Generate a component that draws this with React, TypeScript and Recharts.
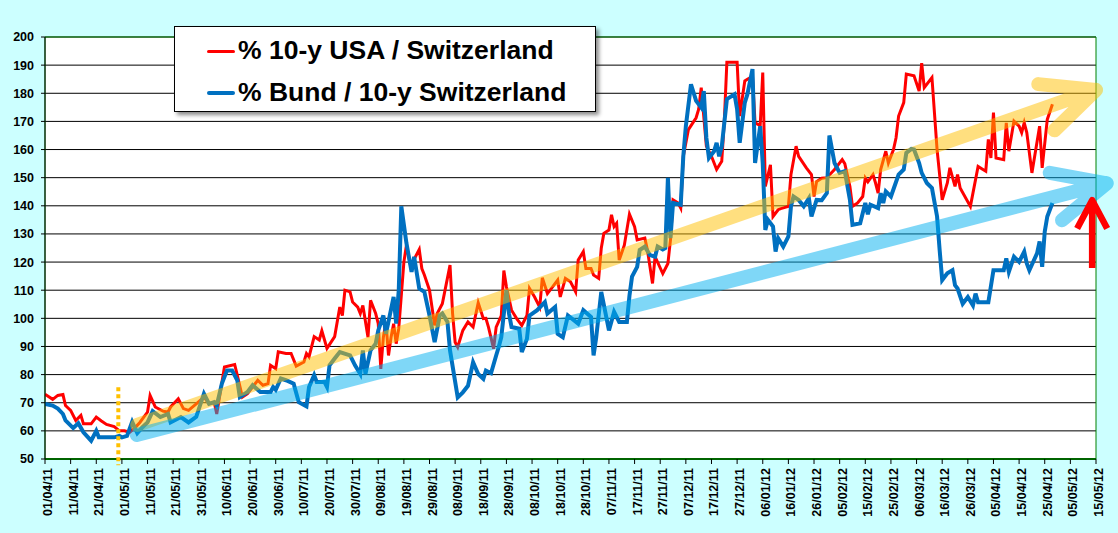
import React from 'react';
import { LineChart, Line, XAxis, YAxis, CartesianGrid, ReferenceLine, ReferenceArea } from 'recharts';

// x values are day offsets from 01/04/11
const X_TICK_LABELS = [
  '01/04/11', '11/04/11', '21/04/11', '01/05/11', '11/05/11', '21/05/11', '31/05/11', '10/06/11',
  '20/06/11', '30/06/11', '10/07/11', '20/07/11', '30/07/11', '09/08/11', '19/08/11', '29/08/11',
  '08/09/11', '18/09/11', '28/09/11', '08/10/11', '18/10/11', '28/10/11', '07/11/11', '17/11/11',
  '27/11/11', '07/12/11', '17/12/11', '27/12/11', '06/01/12', '16/01/12', '26/01/12', '05/02/12',
  '15/02/12', '25/02/12', '06/03/12', '16/03/12', '26/03/12', '05/04/12', '15/04/12', '25/04/12',
  '05/05/12', '15/05/12',
];
const X_TICKS = X_TICK_LABELS.map((_, i) => i * 10);
const Y_TICKS = [50, 60, 70, 80, 90, 100, 110, 120, 130, 140, 150, 160, 170, 180, 190, 200];

const USA_NAME = '% 10-y USA / Switzerland';
const BUND_NAME = '% Bund / 10-y Switzerland';

const USA_DAYS = [
  0, 3, 5, 7, 8, 10, 12, 14, 15, 18, 20, 22, 24, 27, 29, 31, 33, 35, 37, 40, 41, 43, 46, 48, 49, 52, 54, 56, 59, 62,
  64, 66, 67, 70, 74, 75, 77, 79, 83, 85, 87, 88, 90, 91, 94, 96, 98, 101, 102, 103, 105, 107, 108, 110, 113, 115,
  116, 117, 119, 120, 122, 123, 124, 126, 127, 129, 130, 131, 132, 133, 134, 135, 136, 137, 138, 140, 141, 143, 144,
  146, 147, 148, 150, 152, 153, 155, 158, 159, 160, 161, 163, 165, 167, 169, 171, 172, 173, 175, 176, 178, 179, 180,
  182, 184, 186, 188, 189, 191, 193, 194, 196, 198, 200, 201, 203, 205, 207, 208, 210, 211, 213, 214, 216, 217, 218,
  220, 221, 222, 223, 224, 226, 228, 230, 231, 234, 235, 237, 238, 241, 243, 244, 245, 247, 248, 249, 251, 254, 255,
  256, 258, 260, 262, 264, 265, 266, 270, 271, 273, 274, 276, 277, 279, 280, 281, 283, 284, 286, 287, 290, 291, 293,
  294, 297, 299, 300, 301, 303, 305, 308, 311, 312, 314, 315, 317, 319, 320, 321, 323, 324, 325, 326, 328, 329, 331,
  332, 333, 335, 336, 339, 341, 342, 343, 346, 348, 350, 352, 353, 355, 356, 357, 361, 364, 367, 368, 369, 370, 371,
  374, 375, 376, 378, 380, 381, 382, 383, 385, 388, 389, 391, 393,
];
const USA_VALUES = [
  73, 71.2, 72.6, 72.9, 69, 67.3, 63.7, 65.5, 62.5, 62.5, 64.9, 63.5, 62.3, 61.5, 60, 60, 59.5, 61, 63, 66.7, 72.6,
  68.5, 67, 66.7, 68.5, 71.4, 67.9, 67.3, 69.6, 72, 69.6, 70.2, 66, 82.7, 83.6, 79.8, 72, 73.2, 78, 76.2, 76.8, 83.3,
  82.1, 88.1, 87.5, 87.5, 83, 84.5, 87.5, 86.3, 93.5, 92.3, 95.6, 89.3, 93.5, 104, 101, 110, 109.4, 105.8, 104, 101.7,
  104.6, 93.3, 106.4, 101.7, 98.1, 82, 93.3, 98.7, 86.8, 93.3, 98.1, 91, 96.4, 120, 126, 117, 121, 124.5, 117.7,
  115.4, 110, 97.5, 101.7, 105.2, 118.9, 101.7, 91.5, 89.8, 95.7, 98.7, 96.9, 105.5, 99.9, 100, 96.9, 89.2, 96.9, 101,
  117, 111.2, 102.9, 99.9, 97.5, 101, 110.6, 107.6, 104, 114.4, 108.8, 111.2, 113.6, 107.6, 114.2, 113, 109.4, 120.7,
  123.7, 117.7, 117.7, 115.4, 114.2, 124.9, 130.2, 131.4, 136.8, 132.6, 133.8, 120.7, 126, 137, 132.6, 127.9, 128.5,
  124.3, 112.4, 121.9, 115.9, 119.5, 127.9, 142.1, 141, 139.2, 157.6, 167.1, 171.3, 174.3, 182, 161.2, 157.6, 152.9,
  155.8, 170.1, 191, 191, 171.9, 184.4, 185, 186, 169.5, 168.5, 187.4, 146.9, 154.6, 136.2, 138.6, 139, 139.8, 151.1,
  161.2, 157.6, 153.5, 151.1, 143.3, 148.6, 149.8, 150, 152.9, 156.4, 155, 146.9, 139.8, 141, 143.3, 149.9, 148.5,
  151.1, 148.1, 144.5, 152.9, 159.4, 155.2, 160, 164.2, 171.9, 176.7, 186.8, 186.2, 180.8, 190.7, 182, 185.6, 160,
  142.1, 148.1, 153.5, 146.9, 151.1, 146.3, 139.8, 154, 152.3, 163.6, 157, 173.1, 157, 156.4, 169.5, 159.4, 170.1,
  168.3, 166, 169.5, 166, 151.7, 168.3, 153.5, 170.7, 176.1,
];

const BUND_DAYS = [
  0, 3, 5, 7, 8, 11, 13, 15, 18, 20, 21, 27, 29, 30, 32, 34, 36, 38, 40, 42, 45, 48, 49, 53, 56, 59, 62, 64, 66, 67,
  69, 71, 73, 75, 76, 79, 81, 84, 88, 89, 90, 92, 94, 97, 99, 102, 103, 105, 106, 109, 110, 111, 113, 115, 119, 121,
  123, 124, 125, 127, 129, 130, 132, 133, 136, 137, 138, 139, 141, 143, 144, 146, 148, 150, 152, 154, 155, 157, 158,
  161, 163, 165, 167, 169, 171, 172, 174, 176, 177, 178, 180, 181, 182, 185, 186, 188, 189, 192, 195, 196, 199, 200,
  202, 204, 208, 210, 213, 214, 215, 217, 220, 222, 224, 227, 228, 229, 231, 232, 234, 236, 238, 239, 241, 242, 243,
  244, 245, 248, 249, 250, 252, 254, 256, 257, 258, 259, 261, 262, 263, 264, 266, 269, 270, 271, 273, 274, 276, 277,
  279, 280, 281, 282, 284, 285, 286, 288, 290, 291, 292, 294, 296, 298, 299, 301, 303, 305, 306, 308, 310, 312, 314,
  315, 318, 320, 321, 322, 325, 326, 327, 328, 330, 333, 335, 336, 338, 339, 341, 342, 344, 346, 348, 349, 350, 352,
  354, 355, 356, 358, 360, 362, 363, 364, 368, 370, 374, 375, 376, 378, 380, 382, 383, 384, 387, 388, 389, 390, 391,
  393,
];
const BUND_VALUES = [
  69.6, 69, 67.9, 66, 63.7, 61, 62.7, 59.5, 56.5, 60, 57.7, 57.7, 58.2, 57.7, 58.2, 63.2, 59.2, 61.3, 63, 67, 64.9, 66,
  63, 64.9, 63, 65, 73.2, 69.6, 70.2, 69, 76.8, 81.5, 81.5, 78, 72, 73.8, 76.2, 73.8, 73.8, 75.6, 74.6, 78.6, 78, 76.8,
  70.2, 68.7, 75.6, 79.8, 77.4, 77.4, 75.6, 83.3, 85.7, 88, 86.8, 83.2, 80.2, 88.6, 80.2, 88.6, 91, 95.7, 101, 94.5,
  107.6, 98.1, 110, 139.8, 126.7, 116.5, 121.9, 110.6, 109.4, 101, 91.5, 101, 101.7, 98.7, 88.6, 71.9, 73.7, 76, 84.4,
  80.2, 78.5, 81.4, 80.5, 86.8, 89.8, 93.3, 110, 101.7, 96.9, 96.3, 88, 92.7, 101, 102.9, 105.8, 101.7, 104, 94.5,
  93.3, 101, 98.1, 102.9, 100.5, 86.8, 93, 109.4, 95.7, 102.3, 98.7, 98.7, 108, 114.8, 118.3, 124.3, 125.5, 122.5,
  121.9, 125.5, 124.5, 125, 149.9, 128.5, 141, 140.4, 157.6, 168.3, 183.2, 177.3, 174.9, 180.8, 164.2, 157, 159.4,
  162.4, 157.6, 161, 177.9, 179.6, 174.3, 162.4, 176.7, 179.6, 188.6, 155.2, 168.3, 155, 131.4, 135, 132.6, 123.7,
  128.5, 125.5, 129.1, 139.8, 143.3, 142.1, 139.8, 142.7, 136.2, 142.1, 142, 144.5, 165, 155.2, 151.7, 152.3, 142.1,
  133.2, 133.8, 141, 137, 140.4, 139.2, 144.5, 141, 145.1, 143.3, 151.1, 152.9, 158.8, 160.2, 160, 155.2, 151.7,
  148.1, 146.3, 136.2, 124.3, 113.6, 116, 117.1, 111.8, 110.6, 105.2, 107.6, 104.6, 108.8, 105.7, 105.7, 117.1, 117.1,
  121.3, 116.5, 121.9, 120.1, 123.7, 119.5, 117.1, 123.1, 127.3, 118.3, 130.8, 136.2, 141,
];

// Annotation anchors in data units (day offset, value)
const YELLOW_ARROW = [{ x: 36, y: 62.1 }, { x: 410, y: 181.2 }];
const BLUE_ARROW = [{ x: 35.8, y: 58.5 }, { x: 414.2, y: 148 }];
const RED_ARROW = [{ x: 408.5, y: 117.9 }, { x: 408.5, y: 142 }];
const START_MARK = [{ x: 28.6, y: 75.5 }, { x: 28.6, y: 47.8 }];

const usaData = USA_DAYS.map((d, i) => ({ d, v: USA_VALUES[i] }));
const bundData = BUND_DAYS.map((d, i) => ({ d, v: BUND_VALUES[i] }));

const FONT = '"Liberation Sans", Arial, sans-serif';

const makeArrow = (color: string, opacity: number, width: number, head: number, angleDeg: number, cap: string) =>
  (props: any) => {
    const { x1, y1, x2, y2 } = props;
    if ([x1, y1, x2, y2].some((v) => typeof v !== 'number' || isNaN(v))) return <g />;
    const ang = Math.atan2(y1 - y2, x1 - x2);
    const a = (angleDeg * Math.PI) / 180;
    const wx1 = x2 + head * Math.cos(ang + a);
    const wy1 = y2 + head * Math.sin(ang + a);
    const wx2 = x2 + head * Math.cos(ang - a);
    const wy2 = y2 + head * Math.sin(ang - a);
    return (
      <path
        d={`M${x1},${y1}L${x2},${y2}M${wx1},${wy1}L${x2},${y2}L${wx2},${wy2}`}
        stroke={color}
        strokeOpacity={opacity}
        strokeWidth={width}
        strokeLinecap={cap as any}
        strokeLinejoin="round"
        fill="none"
      />
    );
  };

const XTick = (props: any) => {
  const { x, y, payload } = props;
  const idx = X_TICKS.indexOf(payload.value);
  const label = idx >= 0 ? X_TICK_LABELS[idx] : '';
  return (
    <text
      transform={`translate(${x + 7},${y}) rotate(-90)`}
      textAnchor="end"
      fontSize={12.5}
      fontWeight="bold"
      fontFamily={FONT}
      fill="#000"
    >
      {label}
    </text>
  );
};

const LegendBox = () => (
  <div
    style={{
      position: 'absolute',
      left: 174,
      top: 26,
      width: 422,
      height: 86,
      background: '#fff',
      border: '1px solid #000',
      boxShadow: '3px 3px 4px rgba(0,0,0,0.45)',
      fontFamily: FONT,
      fontWeight: 'bold',
      fontSize: 26.5,
      color: '#000',
      boxSizing: 'border-box',
    }}
  >
    {[
      { name: USA_NAME, color: '#FF0000', w: 3, top: 8 },
      { name: BUND_NAME, color: '#0070C0', w: 4, top: 50 },
    ].map((it) => (
      <div
        key={it.name}
        style={{ position: 'absolute', left: 32, top: it.top, display: 'flex', alignItems: 'center', whiteSpace: 'nowrap', lineHeight: '30px' }}
      >
        <span style={{ display: 'inline-block', width: 28, height: it.w, background: it.color, marginRight: 3, marginTop: 2, borderRadius: 2 }} />
        <span>{it.name}</span>
      </div>
    ))}
  </div>
);

export default function App() {
  return (
    <div style={{ position: 'relative', width: 1118, height: 533, background: '#CCFFFF', overflow: 'hidden' }}>
      <style>{'body{margin:0;}'}</style>
      <LineChart width={1118} height={533} margin={{ top: 37, right: 22, bottom: 0, left: 0 }}>
        <CartesianGrid horizontal vertical={false} stroke="#000" strokeWidth={1} fill="#fff" />
        <XAxis
          type="number"
          dataKey="d"
          domain={[0, 410]}
          ticks={X_TICKS}
          interval={0}
          allowDataOverflow
          height={74}
          tickSize={5}
          tickMargin={4}
          tick={<XTick />}
          axisLine={{ stroke: '#006400', strokeWidth: 2 }}
          tickLine={{ stroke: '#000' }}
        />
        <YAxis
          type="number"
          domain={[50, 200]}
          ticks={Y_TICKS}
          interval={0}
          allowDataOverflow
          width={45}
          tickSize={4}
          tickMargin={7}
          tick={{ fontSize: 12.5, fontWeight: 'bold', fill: '#000', fontFamily: FONT }}
          axisLine={{ stroke: '#000' }}
          tickLine={{ stroke: '#000' }}
        />
        <ReferenceArea x1={0} x2={410} y1={50} y2={200} fill="none" stroke="#008000" strokeWidth={1} ifOverflow="visible" />
        <Line
          data={usaData}
          dataKey="v"
          name={USA_NAME}
          type="linear"
          stroke="#FF0000"
          strokeWidth={3}
          dot={false}
          isAnimationActive={false}
        />
        <Line
          data={bundData}
          dataKey="v"
          name={BUND_NAME}
          type="linear"
          stroke="#0070C0"
          strokeWidth={4}
          dot={false}
          isAnimationActive={false}
        />
        <ReferenceLine
          segment={YELLOW_ARROW}
          ifOverflow="visible"
          zIndex={700}
          shape={makeArrow('#FFC000', 0.5, 14, 58, 25, 'round')}
        />
        <ReferenceLine
          segment={BLUE_ARROW}
          ifOverflow="visible"
          zIndex={700}
          shape={makeArrow('#00B0F0', 0.5, 14, 58, 25, 'round')}
        />
        <ReferenceLine
          segment={RED_ARROW}
          ifOverflow="visible"
          zIndex={700}
          shape={makeArrow('#FF0000', 1, 6.5, 32, 28, 'butt')}
        />
        <ReferenceLine
          segment={START_MARK}
          ifOverflow="visible"
          zIndex={700}
          stroke="#FFC000"
          strokeWidth={4}
          strokeDasharray="4 3"
        />
      </LineChart>
      <LegendBox />
    </div>
  );
}
